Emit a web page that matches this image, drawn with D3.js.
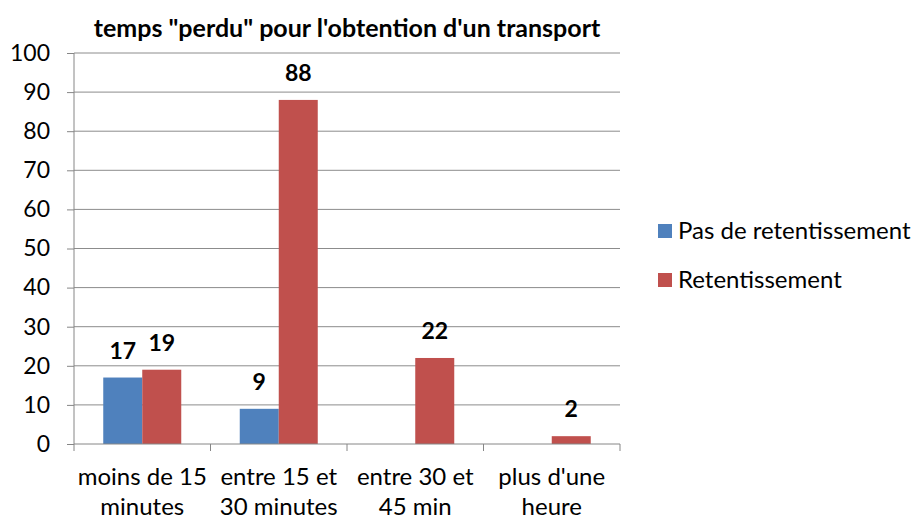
<!DOCTYPE html>
<html>
<head>
<meta charset="utf-8">
<script src="https://cdn.jsdelivr.net/npm/d3@7"></script>
<style>
  body { margin: 0; background: #fff; }
  text { font-family: Lato, "Open Sans", sans-serif; fill: #000; }
  .axisLabel { font-size: 23px; }
  .catLabel { font-size: 24px; }
  .legendLabel { font-size: 24px; }
  .valueLabel { font-size: 23px; font-weight: bold; }
  .title { font-size: 25px; font-weight: bold; }
</style>
</head>
<body>
<div id="chart"></div>
<script>
var svgWidth = 924;
var svgHeight = 520;

var margin = { top: 53, right: 304, bottom: 76, left: 74 };
var width = svgWidth - margin.left - margin.right;
var height = svgHeight - margin.top - margin.bottom;

// Data
var categories = [
  ["moins de 15", "minutes"],
  ["entre 15 et", "30 minutes"],
  ["entre 30 et", "45 min"],
  ["plus d'une", "heure"]
];
var seriesNames = ["Pas de retentissement", "Retentissement"];
var pasDeRetentissement = [17, 9, null, null];
var retentissement = [19, 88, 22, 2];
var yTicks = [0, 10, 20, 30, 40, 50, 60, 70, 80, 90, 100];
var colors = ["#4F81BD", "#C0504D"];

var seriesValues = [pasDeRetentissement, retentissement];

var svg = d3.select("#chart")
  .append("svg")
  .attr("width", svgWidth)
  .attr("height", svgHeight);

var chartGroup = svg.append("g")
  .attr("transform", `translate(${margin.left}, ${margin.top})`);

// Scales
var xScale = d3.scaleBand()
  .domain(d3.range(categories.length))
  .range([0, width]);

// 150% gap width between groups
var groupWidth = xScale.bandwidth() * 2 / 3.5;
var xInner = d3.scaleBand()
  .domain(d3.range(seriesNames.length))
  .range([0, groupWidth]);

var yScale = d3.scaleLinear()
  .domain([0, 100])
  .range([height, 0]);

// Gridlines
chartGroup.append("g")
  .selectAll("line")
  .data(yTicks.filter(d => d > 0))
  .enter()
  .append("line")
  .attr("x1", 0)
  .attr("x2", width)
  .attr("y1", d => yScale(d))
  .attr("y2", d => yScale(d))
  .attr("stroke", "#8c8c8c")
  .attr("stroke-width", 1);

// Bars
var groups = chartGroup.selectAll(".cat")
  .data(categories.map((c, i) => i))
  .enter()
  .append("g")
  .attr("transform", i => `translate(${xScale(i) + (xScale.bandwidth() - groupWidth) / 2}, 0)`);

groups.each(function(i) {
  var g = d3.select(this);
  seriesValues.forEach(function(vals, s) {
    var v = vals[i];
    if (v == null) return;
    g.append("rect")
      .attr("x", xInner(s))
      .attr("width", xInner.bandwidth())
      .attr("y", yScale(v))
      .attr("height", height - yScale(v))
      .attr("fill", colors[s]);
    g.append("text")
      .attr("class", "valueLabel")
      .attr("x", xInner(s) + xInner.bandwidth() / 2)
      .attr("y", yScale(v) - 19)
      .attr("text-anchor", "middle")
      .text(v);
  });
});

// Axes
var leftAxis = d3.axisLeft(yScale)
  .tickValues(yTicks)
  .tickSize(7)
  .tickPadding(17);

var yAxis = chartGroup.append("g").call(leftAxis);
yAxis.select(".domain").attr("stroke", "#868686").attr("d", `M0,${height}V0`);
yAxis.selectAll(".tick line").attr("stroke", "#868686");
yAxis.selectAll(".tick text")
  .attr("class", "axisLabel")
  .attr("font-family", null)
  .attr("font-size", null)
  .attr("fill", "#000");

var bottomAxis = d3.axisBottom(xScale).tickSize(0).tickFormat("");
var xAxis = chartGroup.append("g")
  .attr("transform", `translate(0, ${height})`)
  .call(bottomAxis);
xAxis.select(".domain").attr("stroke", "#868686").attr("d", `M0,0H${width}`);

// x tick marks at category boundaries
xAxis.selectAll(".sep")
  .data(d3.range(categories.length + 1))
  .enter()
  .append("line")
  .attr("x1", i => i * xScale.step())
  .attr("x2", i => i * xScale.step())
  .attr("y1", 0)
  .attr("y2", 7)
  .attr("stroke", "#868686");

// x category labels (two lines)
var xLabels = chartGroup.append("g")
  .selectAll("text")
  .data(categories)
  .enter()
  .append("text")
  .attr("class", "catLabel")
  .attr("text-anchor", "middle")
  .attr("transform", (d, i) => `translate(${xScale(i) + xScale.bandwidth() / 2}, ${height + 41})`);

xLabels.selectAll("tspan")
  .data(d => d)
  .enter()
  .append("tspan")
  .attr("x", 0)
  .attr("dy", (d, j) => j === 0 ? 0 : 30)
  .text(d => d);

// Title
svg.append("text")
  .attr("class", "title")
  .attr("x", margin.left + width / 2)
  .attr("y", 37)
  .attr("text-anchor", "middle")
  .text("temps \"perdu\" pour l'obtention d'un transport");

// Legend
var legend = svg.append("g")
  .attr("transform", "translate(658, 224)");

var legendItems = legend.selectAll("g")
  .data(seriesNames)
  .enter()
  .append("g")
  .attr("transform", (d, i) => `translate(0, ${i * 49})`);

legendItems.append("rect")
  .attr("width", 14)
  .attr("height", 14)
  .attr("fill", (d, i) => colors[i]);

legendItems.append("text")
  .attr("class", "legendLabel")
  .attr("x", 20)
  .attr("y", 15)
  .text(d => d);
</script>
</body>
</html>
